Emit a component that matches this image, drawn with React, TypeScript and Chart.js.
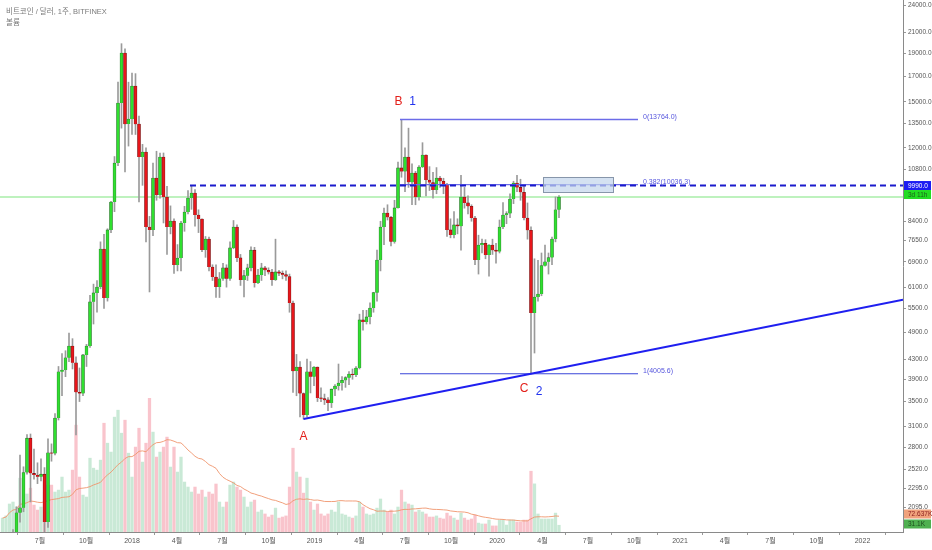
import React, { useEffect, useRef } from "react";
import { Chart, registerables } from "chart.js";

Chart.register(...registerables);

// ---------- DATA ----------
const firstWeek = "2017-04-17"; // Monday of first weekly candle

const opens = [
  1230, 1250, 1410, 1680, 1790, 2040, 2090, 2480, 2930, 2470, 2450,
  2430, 2460, 1950, 2730, 2720, 3230, 4045, 4080, 4330, 4584,
  4224, 3661, 3640, 4390, 4584, 5679, 5931, 6105, 7342, 5789,
  8052, 9223, 11146, 14914, 19010, 13469, 13798, 16198, 13469, 11474,
  11758, 8170, 8052, 10363, 9542, 11474, 9450, 8170, 8410, 6795,
  7027, 8328, 8787, 9404, 9634, 8658, 8490, 7305, 7706, 6728,
  6409, 6105, 6354, 6696, 6354, 7380, 8170, 7030, 6317, 6450,
  6696, 7300, 6226, 6471, 6696, 6620, 6560, 6317, 6567, 6530,
  6480, 6420, 5649, 4061, 4140, 3640, 3280, 4045, 3946, 4140,
  3562, 3550, 3530, 3477, 3717, 3775, 3830, 3880, 3930, 4000,
  3980, 4120, 5203, 5150, 5278, 5513, 5939, 6960, 8170, 8744,
  8560, 7600, 8960, 10880, 10700, 11470, 10150, 10618, 9450, 10932,
  11588, 10262, 10140, 9773, 10363, 10200, 10050, 8052, 7860, 8250,
  8200, 9450, 9181, 9030, 8534, 6960, 7486, 7550, 7130, 7486,
  7300, 7250, 8170, 8658, 8720, 9358, 10114, 9900, 9670, 8530,
  8040, 5380, 5815, 5900, 6770, 6900, 7040, 7706, 8880,
];
const highs = [
  1270, 1420, 1690, 1880, 2100, 2700, 2550, 2980, 2990, 2780, 2600,
  2650, 2540, 2920, 2850, 3300, 4150, 4420, 4480, 4880, 4750,
  4350, 4120, 4400, 4620, 5860, 6190, 6300, 7600, 7880, 8100,
  9250, 11500, 16500, 19891, 19400, 16500, 17253, 17200, 14000, 12200,
  12000, 8600, 11135, 11800, 11700, 11700, 9950, 9050, 8500, 7500,
  8400, 9030, 9750, 9990, 9800, 8880, 8500, 7800, 7780, 6800,
  6800, 6550, 6850, 6800, 7600, 8430, 8250, 7150, 6620, 6820,
  7420, 7400, 6650, 6850, 6750, 6700, 6650, 7700, 6620, 6600,
  6600, 6500, 5700, 4400, 4250, 3650, 4300, 4250, 4150, 4140,
  3740, 3630, 3570, 3720, 3800, 4200, 3950, 3950, 4050, 4100,
  4150, 5350, 5450, 5450, 5650, 5950, 7300, 8400, 8950, 9100,
  8600, 9300, 11200, 13764, 12000, 13200, 11100, 10700, 11000, 12300,
  11600, 10950, 10650, 10900, 10450, 10350, 10100, 8500, 8800, 8500,
  10500, 9900, 9500, 9100, 8600, 7850, 7700, 7680, 7500, 7700,
  7550, 8450, 9200, 8800, 9600, 10200, 10500, 10300, 9960, 9180,
  8180, 7000, 6950, 7200, 7480, 7200, 7780, 9450, 9520,
];
const lows = [
  1190, 1240, 1400, 1630, 1760, 1950, 2050, 2460, 2150, 2400, 2350,
  2380, 1840, 1900, 2620, 2700, 3200, 3600, 3950, 4250, 4100,
  2976, 3500, 3600, 4150, 4550, 5100, 5400, 6050, 5500, 5700,
  7950, 8800, 11000, 13200, 10671, 12100, 12800, 12800, 9223, 10000,
  7600, 5959, 7830, 9300, 9400, 8330, 7150, 7900, 6520, 6600,
  6600, 8000, 8700, 8900, 8200, 7950, 7250, 7050, 6600, 6300,
  5800, 5800, 6300, 6100, 6300, 7350, 6900, 6150, 5815, 6300,
  6600, 6100, 6200, 6300, 6450, 6500, 6150, 6300, 6450, 6350,
  6300, 5400, 3661, 3600, 3250, 3216, 3250, 3650, 3780, 3500,
  3500, 3450, 3350, 3400, 3600, 3700, 3700, 3750, 3800, 3900,
  3950, 4100, 4950, 5100, 5100, 5400, 5700, 6600, 7500, 8450,
  7450, 7550, 8950, 10400, 9700, 9900, 9100, 9100, 9300, 10900,
  9500, 9750, 9400, 9600, 9900, 9600, 7800, 7750, 7750, 7900,
  7300, 8950, 8700, 8400, 6800, 6500, 7200, 7000, 6430, 7150,
  6850, 7200, 8100, 8300, 8550, 9150, 9700, 9300, 8450, 7700,
  4005, 4430, 5700, 5850, 6750, 6500, 6800, 7600, 8550,
];
const closes = [
  1250, 1410, 1680, 1790, 2040, 2090, 2480, 2930, 2470, 2450, 2430,
  2460, 1950, 2730, 2720, 3230, 4045, 4080, 4330, 4584, 4224,
  3661, 3640, 4390, 4584, 5679, 5931, 6105, 7342, 5789, 8052,
  9223, 11146, 14914, 19010, 13469, 13798, 16198, 13469, 11474, 11758,
  8170, 8052, 10363, 9542, 11474, 9450, 8170, 8410, 6795, 7027,
  8328, 8787, 9404, 9634, 8658, 8490, 7305, 7706, 6728, 6409,
  6105, 6354, 6696, 6354, 7380, 8170, 7030, 6317, 6450, 6696,
  7300, 6226, 6471, 6696, 6620, 6560, 6317, 6567, 6530, 6480,
  6420, 5649, 4061, 4140, 3640, 3280, 4045, 3946, 4140, 3562,
  3550, 3530, 3477, 3717, 3775, 3830, 3880, 3930, 4000, 3980,
  4120, 5203, 5150, 5278, 5513, 5939, 6960, 8170, 8744, 8560,
  7600, 8960, 10880, 10700, 11470, 10150, 10618, 9450, 10932, 11588,
  10262, 10140, 9773, 10363, 10200, 10050, 8052, 7860, 8250, 8200,
  9450, 9181, 9030, 8534, 6960, 7486, 7550, 7130, 7486, 7300,
  7250, 8170, 8658, 8720, 9358, 10114, 9900, 9670, 8530, 8040,
  5380, 5815, 5900, 6770, 6900, 7040, 7706, 8880, 9450,
];
// weekly volume, thousands (K)
const volumes = [
  64, 74, 129, 138, 115, 248, 138, 175, 202, 124, 101,
  115, 184, 216, 216, 184, 193, 253, 184, 193, 285,
  492, 253, 170, 161, 340, 294, 285, 331, 501, 409,
  368, 529, 561, 455, 515, 363, 253, 391, 478, 322,
  409, 616, 460, 345, 368, 391, 437, 299, 391, 276,
  345, 230, 207, 184, 207, 175, 193, 161, 184, 175,
  221, 138, 115, 138, 216, 230, 207, 193, 161, 115,
  138, 147, 92, 101, 83, 69, 78, 110, 64, 69,
  74, 207, 386, 276, 253, 179, 248, 138, 101, 129,
  83, 74, 83, 101, 92, 138, 83, 78, 69, 64,
  74, 138, 115, 83, 78, 83, 110, 152, 101, 92,
  101, 83, 115, 193, 138, 129, 124, 92, 101, 92,
  83, 69, 69, 74, 64, 60, 87, 74, 64, 55,
  87, 64, 55, 60, 78, 41, 37, 37, 55, 28,
  28, 55, 55, 32, 55, 55, 46, 46, 55, 55,
  280, 221.64, 83, 60, 60, 60, 60, 87, 31.1,
];
const volumeMaLength = 20;

const xTickDates = [
  "2017-07-01", "2017-10-01", "2018-01-01", "2018-04-01", "2018-07-01", "2018-10-01",
  "2019-01-01", "2019-04-01", "2019-07-01", "2019-10-01", "2020-01-01", "2020-04-01",
  "2020-07-01", "2020-10-01", "2021-01-01", "2021-04-01", "2021-07-01", "2021-10-01", "2022-01-01",
];
const xTickLabels = [
  "7월", "10월", "2018", "4월", "7월", "10월", "2019", "4월", "7월", "10월", "2020", "4월",
  "7월", "10월", "2021", "4월", "7월", "10월", "2022",
];
const yTicks = [
  2095, 2295, 2520, 2800, 3100, 3500, 3900, 4300, 4900, 5500, 6100, 6900,
  7650, 8400, 10800, 12000, 13500, 15000, 17000, 19000, 21000, 24000,
];

// drawings
const resistancePrice = 9990;
const resistanceFrom = "2018-04-27";
const fibHigh = 13764;
const fibLow = 4005.6;
const fibLevels = [0, 0.382, 1];
const fibFrom = "2019-06-21";
const fibTo = "2020-10-09";
const trendA = { date: "2018-12-10", price: 3216 };
const trendC = { date: "2020-03-09", price: 4005.6 };
const zoneFrom = "2020-04-02";
const zoneTo = "2020-08-20";
const zoneHigh = 10413;
const zoneLow = 9683;
const waveLabels = [
  { text: "B", color: "#e3201b", date: "2019-06-24", price: 13764, dx: -3, dy: -18 },
  { text: "1", color: "#2233ee", date: "2019-06-24", price: 13764, dx: 11, dy: -18 },
  { text: "A", color: "#e3201b", date: "2018-12-10", price: 3216, dx: 0, dy: 18 },
  { text: "C", color: "#e3201b", date: "2020-03-09", price: 4005.6, dx: -7, dy: 15 },
  { text: "2", color: "#2233ee", date: "2020-03-09", price: 4005.6, dx: 8, dy: 18 },
];
const titleText = "비트코인 / 달러, 1주, BITFINEX";
const volumeTitle = "볼륨";
const countdownText = "3d 11h";

// ---------- helpers ----------
const ORIGIN = Date.UTC(2017, 6, 1);
const DAY = 86400000;
const toDay = (s: string) => {
  const [yy, mm, dd] = s.split("-").map(Number);
  return (Date.UTC(yy, mm - 1, dd) - ORIGIN) / DAY;
};
const X_MIN = -80;
const X_MAX = 1726;
const Y_MIN = 1858;
const Y_MAX = 24590;
const V_MAX = 2450;
const FONT = "'Liberation Sans', 'Noto Sans CJK KR', Arial, sans-serif";

const GREEN = "#2fe02f";
const RED = "#e8161b";

export default function App() {
  const ref = useRef<HTMLCanvasElement | null>(null);

  useEffect(() => {
    const canvas = ref.current;
    if (!canvas) return;

    const firstDay = toDay(firstWeek);
    const days = closes.map((_, i) => firstDay + 7 * i);
    const up = closes.map((c, i) => c >= opens[i]);

    const bodies = days.map((d, i) => ({ x: d, y: [opens[i], closes[i]] }));
    const wicks = days.map((d, i) => ({ x: d, y: [lows[i], highs[i]] }));
    const vols = days.map((d, i) => ({ x: d, y: volumes[i] }));
    const volMa = days.map((d, i) => {
      const s = Math.max(0, i - volumeMaLength + 1);
      const win = volumes.slice(s, i + 1);
      return { x: d, y: win.reduce((a, b) => a + b, 0) / win.length };
    });
    const lastMa = volMa[volMa.length - 1].y;
    const lastVol = volumes[volumes.length - 1];
    const lastClose = closes[closes.length - 1];

    const aDay = toDay(trendA.date);
    const cDay = toDay(trendC.date);
    const slope = (Math.log(trendC.price) - Math.log(trendA.price)) / (cDay - aDay);
    const trendPts = [
      { x: aDay, y: trendA.price },
      { x: cDay, y: trendC.price },
      { x: X_MAX, y: Math.exp(Math.log(trendC.price) + slope * (X_MAX - cDay)) },
    ];

    const fibPrice = (lv: number) => fibHigh - lv * (fibHigh - fibLow);
    const fibDatasets = fibLevels.map((lv) => ({
      type: "line" as const,
      data: [
        { x: toDay(fibFrom), y: fibPrice(lv) },
        { x: toDay(fibTo), y: fibPrice(lv) },
      ],
      borderColor: lv === 1 ? "#3a46d8" : "#6c6ce8",
      borderWidth: lv === 0 ? 1.5 : 1.2,
      pointRadius: 0,
      yAxisID: "y",
      order: 1,
    }));

    const xTickDays = xTickDates.map(toDay);
    const xLabelMap: Record<string, string> = {};
    xTickDays.forEach((d, i) => (xLabelMap[String(d)] = xTickLabels[i]));

    const annot = {
      id: "annot",
      afterDatasetsDraw(chart: any) {
        const { ctx, scales } = chart;
        const x = scales.x;
        const y = scales.y;
        ctx.save();
        // zone rectangle
        const rx0 = x.getPixelForValue(toDay(zoneFrom));
        const rx1 = x.getPixelForValue(toDay(zoneTo));
        const ry0 = y.getPixelForValue(zoneHigh);
        const ry1 = y.getPixelForValue(zoneLow);
        ctx.fillStyle = "rgba(196,214,236,0.72)";
        ctx.fillRect(rx0, ry0, rx1 - rx0, ry1 - ry0);
        ctx.strokeStyle = "#8796aa";
        ctx.lineWidth = 1;
        ctx.strokeRect(Math.round(rx0) + 0.5, Math.round(ry0) + 0.5, Math.round(rx1 - rx0), Math.round(ry1 - ry0));

        // fib labels
        ctx.font = `7px ${FONT}`;
        ctx.fillStyle = "#5555dd";
        ctx.textAlign = "left";
        ctx.textBaseline = "alphabetic";
        fibLevels.forEach((lv) => {
          const p = fibPrice(lv);
          const px = x.getPixelForValue(toDay(fibTo)) + 5;
          const py = y.getPixelForValue(p) - 1;
          ctx.fillText(`${lv}(${p.toFixed(1)})`, px, py);
        });

        // wave labels
        ctx.font = `12px ${FONT}`;
        ctx.textAlign = "center";
        ctx.textBaseline = "middle";
        waveLabels.forEach((l) => {
          ctx.fillStyle = l.color;
          ctx.fillText(l.text, x.getPixelForValue(toDay(l.date)) + l.dx, y.getPixelForValue(l.price) + l.dy);
        });
        ctx.restore();
      },
      afterDraw(chart: any) {
        const { ctx, scales, chartArea } = chart;
        const y = scales.y;
        const yv = scales.yv;
        const left = chartArea.right;
        const w = chart.width - left;
        ctx.save();
        ctx.font = `6.5px ${FONT}`;
        ctx.textAlign = "left";
        ctx.textBaseline = "middle";
        const box = (cy: number, h: number, bg: string, fg: string, text: string) => {
          ctx.fillStyle = bg;
          ctx.fillRect(left + 1, cy - h / 2, w - 2, h);
          ctx.fillStyle = fg;
          ctx.fillText(text, left + 5, cy + 0.5);
        };
        const ry = y.getPixelForValue(resistancePrice);
        box(ry, 9, "#1c1cf2", "#ffffff", resistancePrice.toFixed(1));
        const cy = Math.max(y.getPixelForValue(lastClose) - 4, ry + 9);
        box(cy, 9, "#22dd22", "#1d5e1d", countdownText);
        const my = yv.getPixelForValue(lastMa);
        box(Math.min(my - 2, 514), 9, "#f0a27c", "#8a1d1d", `${lastMa.toFixed(3)}K`);
        box(Math.min(yv.getPixelForValue(lastVol), 524), 9, "#4fb050", "#1d4d1d", `${lastVol.toFixed(1)}K`);

        // titles
        ctx.font = `7.5px ${FONT}`;
        ctx.fillStyle = "#7a7a7a";
        ctx.textBaseline = "middle";
        ctx.fillText(titleText, 6, 12);
        ctx.fillText(volumeTitle, 6, 23);
        ctx.restore();
      },
    };

    const chart = new Chart(canvas, {
      type: "bar",
      data: {
        datasets: [
          {
            type: "line",
            data: trendPts,
            borderColor: "#1f1ff0",
            borderWidth: 2,
            pointRadius: 0,
            yAxisID: "y",
            order: 0,
          },
          {
            type: "line",
            data: [
              { x: toDay(resistanceFrom), y: resistancePrice },
              { x: X_MAX, y: resistancePrice },
            ],
            borderColor: "#1a1acc",
            borderWidth: 2,
            borderDash: [6, 4],
            pointRadius: 0,
            yAxisID: "y",
            order: 0,
          },
          ...fibDatasets,
          {
            type: "bar",
            data: bodies,
            backgroundColor: up.map((u) => (u ? GREEN : RED)),
            borderColor: up.map((u) => (u ? "#2b6a2b" : "#6a1010")),
            borderWidth: 0.6,
            barThickness: 3,
            grouped: false,
            yAxisID: "y",
            order: 2,
          },
          {
            type: "bar",
            data: wicks,
            backgroundColor: "#9a9a9a",
            barThickness: 1,
            grouped: false,
            yAxisID: "y",
            order: 3,
          },
          {
            type: "line",
            data: volMa,
            borderColor: "rgba(240,150,110,0.9)",
            borderWidth: 1,
            pointRadius: 0,
            tension: 0,
            yAxisID: "yv",
            order: 4,
          },
          {
            type: "bar",
            data: vols,
            backgroundColor: up.map((u) => (u ? "#c9e9d6" : "#f9c4cc")),
            barThickness: 2.6,
            grouped: false,
            yAxisID: "yv",
            order: 5,
          },
          {
            type: "line",
            data: [
              { x: X_MIN, y: lastClose },
              { x: X_MAX, y: lastClose },
            ],
            borderColor: "#a8eea8",
            borderWidth: 1.5,
            pointRadius: 0,
            yAxisID: "y",
            order: 6,
          },
        ] as any,
      },
      options: {
        animation: false,
        responsive: false,
        devicePixelRatio: 1,
        layout: { padding: 0, autoPadding: false } as any,
        plugins: { legend: { display: false }, tooltip: { enabled: false } },
        scales: {
          x: {
            type: "linear",
            min: X_MIN,
            max: X_MAX,
            offset: false,
            afterBuildTicks: (s: any) => {
              s.ticks = xTickDays.map((v) => ({ value: v }));
            },
            afterFit: (s: any) => {
              s.height = 18;
              s.paddingLeft = 0;
              s.paddingRight = 0;
            },
            ticks: {
              autoSkip: false,
              maxRotation: 0,
              padding: 2,
              color: "#555",
              font: { size: 7, family: FONT },
              callback: (v: any) => xLabelMap[String(v)] ?? "",
            },
            grid: { display: true, drawOnChartArea: false, drawTicks: true, tickLength: 3, color: "#999" },
            border: { display: true, color: "#8a8a8a" },
          },
          y: {
            type: "logarithmic",
            position: "right",
            min: Y_MIN,
            max: Y_MAX,
            afterBuildTicks: (s: any) => {
              s.ticks = yTicks.map((v) => ({ value: v }));
            },
            afterFit: (s: any) => {
              s.width = 29;
              s.paddingTop = 0;
              s.paddingBottom = 0;
            },
            ticks: {
              autoSkip: false,
              padding: 2,
              color: "#555",
              font: { size: 6.5, family: FONT },
              callback: (v: any) => Number(v).toFixed(1),
            },
            grid: { display: true, drawOnChartArea: false, drawTicks: true, tickLength: 3, color: "#999" },
            border: { display: true, color: "#8a8a8a" },
          },
          yv: {
            type: "linear",
            display: false,
            min: 0,
            max: V_MAX,
          },
        },
      } as any,
      plugins: [annot],
    });

    return () => chart.destroy();
  }, []);

  return (
    <div style={{ position: "fixed", left: 0, top: 0, width: 932, height: 550, background: "#fff" }}>
      <canvas ref={ref} width={932} height={550} style={{ width: 932, height: 550, display: "block" }} />
    </div>
  );
}
